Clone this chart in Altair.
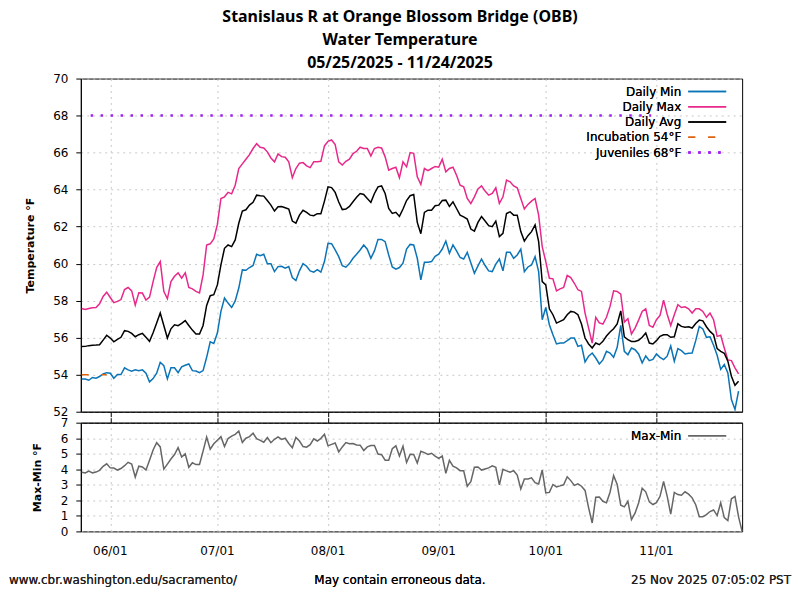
import altair as alt
import pandas as pd

# ---------------- data ----------------
first_day = "2025-05-24"
daily_min = [
    53.77, 53.77, 53.70, 53.85, 53.81, 53.90, 54.04, 54.11, 54.08, 53.81,
    54.01, 54.01, 54.37, 54.26, 54.19, 54.26, 54.22, 54.26, 54.08, 53.61,
    53.79, 54.08, 54.67, 54.49, 53.77, 54.37, 54.37, 54.11, 54.42, 54.51,
    54.58, 54.22, 54.20, 54.11, 54.22, 54.94, 55.78, 55.69, 56.25, 57.42,
    58.14, 57.87, 57.63, 57.99, 58.68, 59.66, 59.64, 59.79, 59.90, 60.51,
    60.43, 60.51, 60.00, 60.00, 59.57, 59.84, 59.86, 59.75, 59.84, 59.25,
    59.09, 59.61, 60.00, 59.86, 59.61, 59.54, 59.68, 59.54, 60.11, 61.10,
    61.08, 60.74, 60.38, 59.89, 59.81, 60.00, 60.29, 60.51, 60.74, 61.01,
    60.78, 60.29, 60.69, 61.31, 61.31, 61.19, 60.47, 59.82, 59.70, 59.79,
    60.02, 60.79, 61.04, 61.01, 60.29, 59.12, 60.07, 60.07, 60.11, 60.40,
    60.51, 60.79, 61.22, 60.56, 61.01, 60.69, 60.33, 60.25, 60.61, 60.05,
    59.48, 59.88, 60.25, 59.90, 59.61, 59.57, 59.97, 60.25, 59.61, 60.61,
    60.61, 60.29, 60.47, 60.79, 59.57, 59.82, 59.93, 60.38, 59.57, 56.97,
    57.63, 56.70, 56.16, 55.66, 55.71, 55.71, 55.84, 55.98, 55.98, 55.53,
    55.59, 54.69, 55.00, 55.17, 54.90, 54.58, 54.80, 55.26, 55.17, 54.94,
    55.48, 56.66, 55.26, 55.08, 55.44, 55.35, 55.12, 54.64, 55.01, 54.76,
    54.83, 55.12, 54.94, 54.82, 55.00, 55.55, 54.73, 55.41, 55.30, 55.12,
    55.16, 55.17, 55.84, 56.61, 56.47, 56.02, 56.05, 55.59, 55.05, 54.29,
    54.55, 54.10, 52.66, 52.12, 53.11,
]
daily_max = [
    57.58, 57.53, 57.58, 57.62, 57.63, 57.83, 58.23, 58.46, 58.17, 57.89,
    57.96, 58.06, 58.60, 58.71, 58.53, 57.76, 58.42, 58.41, 58.03, 58.19,
    59.03, 59.79, 60.11, 58.50, 58.10, 59.03, 59.32, 59.50, 59.21, 59.50,
    58.71, 58.64, 58.50, 58.42, 59.39, 61.01, 61.07, 61.33, 62.12, 63.52,
    63.61, 63.85, 63.77, 64.24, 65.14, 65.39, 65.64, 65.89, 66.22, 66.48,
    66.29, 66.25, 66.04, 65.71, 65.50, 65.93, 65.78, 65.75, 65.50, 64.64,
    65.14, 65.43, 65.46, 65.28, 65.19, 65.50, 65.50, 65.53, 66.36, 66.61,
    66.68, 66.43, 65.50, 65.33, 65.53, 65.64, 65.95, 66.07, 66.29, 66.22,
    66.22, 65.82, 66.22, 66.29, 66.25, 65.77, 65.05, 65.14, 65.21, 64.64,
    65.50, 65.23, 66.00, 65.96, 64.69, 64.28, 65.14, 65.03, 65.14, 65.25,
    65.21, 65.64, 64.96, 65.14, 65.21, 64.78, 64.24, 64.15, 63.52, 63.25,
    63.61, 64.03, 64.20, 63.92, 63.70, 63.79, 64.10, 63.25, 63.61, 64.51,
    64.42, 64.20, 64.10, 63.52, 62.95, 63.20, 63.38, 63.52, 62.62, 60.92,
    60.11, 59.21, 59.18, 58.53, 58.64, 58.71, 59.36, 59.25, 58.94, 58.59,
    58.50, 57.33, 56.52, 55.71, 57.10, 56.80, 56.74, 57.10, 57.69, 58.53,
    58.50, 58.35, 56.84, 57.02, 56.20, 56.52, 56.95, 57.42, 57.56, 56.66,
    56.56, 56.97, 57.20, 58.03, 57.27, 56.66, 57.24, 57.78, 57.63, 57.67,
    57.56, 57.33, 57.56, 57.56, 57.42, 57.10, 57.33, 56.97, 56.07, 56.13,
    55.44, 54.80, 54.76, 54.37, 54.04,
]
daily_avg = [
    55.52, 55.53, 55.57, 55.59, 55.60, 55.62, 55.87, 56.13, 55.98, 55.78,
    55.91, 56.02, 56.38, 56.34, 56.23, 56.05, 56.16, 56.23, 56.02, 55.80,
    56.27, 56.79, 57.33, 56.66, 55.98, 56.48, 56.70, 56.65, 56.77, 56.92,
    56.66, 56.41, 56.20, 56.20, 56.66, 57.74, 58.27, 58.32, 58.85, 59.93,
    60.83, 61.01, 60.92, 61.28, 62.18, 62.84, 62.91, 63.16, 63.31, 63.70,
    63.67, 63.65, 63.41, 63.16, 62.84, 63.07, 63.09, 63.02, 62.95, 62.30,
    62.19, 62.62, 62.88, 62.77, 62.62, 62.59, 62.70, 62.70, 63.38, 64.15,
    64.11, 63.85, 63.33, 62.92, 62.95, 63.09, 63.34, 63.59, 63.79, 63.74,
    63.52, 63.31, 63.79, 64.15, 64.20, 63.79, 62.98, 62.71, 62.77, 62.55,
    62.95, 63.41, 63.67, 63.74, 62.23, 61.62, 62.77, 62.89, 62.89, 63.13,
    63.16, 63.41, 63.43, 63.09, 63.34, 62.98, 62.62, 62.53, 62.41, 61.87,
    61.76, 62.23, 62.54, 62.30, 62.05, 62.00, 62.30, 61.46, 61.64, 62.71,
    62.80, 62.62, 62.62, 61.73, 61.22, 61.51, 61.73, 62.09, 61.19, 59.03,
    58.85, 57.56, 57.24, 56.79, 56.88, 56.97, 57.24, 57.42, 57.38, 57.24,
    56.74, 55.98, 55.66, 55.44, 55.71, 55.62, 55.80, 56.09, 56.31, 56.48,
    56.74, 57.45, 56.05, 55.89, 55.80, 55.80, 55.86, 56.02, 56.25, 55.71,
    55.66, 55.84, 56.07, 56.16, 56.16, 56.02, 56.05, 56.75, 56.61, 56.56,
    56.59, 56.52, 56.77, 56.95, 56.91, 56.59, 56.34, 56.16, 55.41, 55.26,
    55.16, 54.73, 53.92, 53.43, 53.65,
]
# last (partial) day only appears in the Max-Min panel
last_partial_range = [0.0]

incubation_dates = ["2025-05-24T00:00:00", "2025-05-31T00:00:00"]
incubation_value = 54
juvenile_dates = ["2025-05-26T12:00:00", "2025-10-30T12:00:00"]
juvenile_value = 68

month_tick_dates = ["2025-06-01", "2025-07-01", "2025-08-01", "2025-09-01", "2025-10-01", "2025-11-01"]
month_tick_labels = ["06/01", "07/01", "08/01", "09/01", "10/01", "11/01"]

series_names = ["Daily Min", "Daily Max", "Daily Avg"]
series_colors = ["#0a74b6", "#e8288a", "#000000"]
legend_labels = ["Daily Min", "Daily Max", "Daily Avg", "Incubation 54\u00b0F", "Juveniles 68\u00b0F"]
legend_colors = ["#0a74b6", "#e8288a", "#000000", "#e0620d", "#a020f0"]
legend_dash = [[1, 0], [1, 0], [1, 0], [7, 13], [2.5, 7.5]]
range_color = "#666666"

title_lines = ["Stanislaus R at Orange Blossom Bridge (OBB)", "Water Temperature", "05/25/2025 - 11/24/2025"]
footer_left = "www.cbr.washington.edu/sacramento/"
footer_mid = "May contain erroneous data."
footer_right = "25 Nov 2025 07:05:02 PST"

# ---------------- frames ----------------
fmt = "%Y-%m-%dT%H:%M:%S"
dates = pd.date_range(first_day, periods=len(daily_min), freq="D")
date_str = [d.strftime(fmt) for d in dates]

long_rows = []
for name, vals in zip(series_names, [daily_min, daily_max, daily_avg]):
    for d, v in zip(date_str, vals):
        long_rows.append({"date": d, "series": name, "value": v})
df_long = pd.DataFrame(long_rows)

range_vals = [round(mx - mn, 2) for mx, mn in zip(daily_max, daily_min)] + last_partial_range
range_dates = pd.date_range(first_day, periods=len(range_vals), freq="D")
df_range = pd.DataFrame({"date": [d.strftime(fmt) for d in range_dates], "value": range_vals})

df_inc = pd.DataFrame({"date": [pd.Timestamp(d).strftime(fmt) for d in incubation_dates],
                       "value": [incubation_value] * len(incubation_dates)})
df_juv = pd.DataFrame({"date": [pd.Timestamp(d).strftime(fmt) for d in juvenile_dates],
                       "value": [juvenile_value] * len(juvenile_dates)})
df_months = pd.DataFrame({"date": [pd.Timestamp(d).strftime(fmt) for d in month_tick_dates],
                          "label": month_tick_labels})

# ---------------- scales / axes ----------------
W = 663
H_TOP = 334
H_BOT = 109
x_domain = [alt.DateTime(year=2025, month=5, date=23, hours=18),
            alt.DateTime(year=2025, month=11, date=25)]
month_ticks = [alt.DateTime(year=2025, month=m, date=1) for m in range(6, 12)]
x_scale = alt.Scale(domain=x_domain, nice=False)
y_top_scale = alt.Scale(domain=[52, 70], nice=False, zero=False)
y_bot_scale = alt.Scale(domain=[0, 7], nice=False)

FONT = "DejaVu Sans"
grid_kw = dict(grid=True, gridColor="#c8c8c8", gridDash=[2, 4], gridWidth=1)

x_top_axis = alt.Axis(values=month_ticks, labels=False, title=None, tickSize=5,
                      domainColor="black", tickColor="black", **grid_kw)
x_bot_axis = alt.Axis(values=month_ticks, labels=False, title=None, tickSize=5,
                      domainColor="black", tickColor="black", **grid_kw)
x_bot_top_axis = alt.Axis(values=month_ticks, orient="top", labels=False, title=None,
                          tickSize=5, grid=False, domainColor="black", tickColor="black")

y_top_axis = alt.Axis(values=list(range(52, 71, 2)), title="Temperature \u00b0F",
                      titleFont=FONT, titleFontSize=11, titleFontWeight="bold",
                      titleX=-50, titleY=H_TOP / 2, titleAlign="center", titleBaseline="middle",
                      titleAngle=270, titleColor="black", labelOverlap=False,
                      labelFont=FONT, labelFontSize=12, labelColor="black", labelPadding=8,
                      tickSize=5, domainColor="black", tickColor="black", **grid_kw)
y_bot_axis = alt.Axis(values=list(range(0, 8)), title="Max-Min \u00b0F",
                      titleFont=FONT, titleFontSize=11, titleFontWeight="bold",
                      titleX=-43, titleY=H_BOT / 2, titleAlign="center", titleBaseline="middle",
                      titleAngle=270, titleColor="black", labelOverlap=False,
                      labelFont=FONT, labelFontSize=12, labelColor="black", labelPadding=8,
                      tickSize=5, domainColor="black", tickColor="black", **grid_kw)

X_TOP = alt.X("date:T", scale=x_scale, axis=x_top_axis)
Y_TOP = alt.Y("value:Q", scale=y_top_scale, axis=y_top_axis)

# ---------------- top panel ----------------
lines = alt.Chart(df_long).mark_line(strokeWidth=1.5, clip=True).encode(
    x=X_TOP, y=Y_TOP,
    color=alt.Color("series:N", scale=alt.Scale(domain=series_names, range=series_colors), legend=None),
    detail="series:N",
)
inc_line = alt.Chart(df_inc).mark_line(color=legend_colors[3], strokeWidth=1.5,
                                       strokeDash=legend_dash[3]).encode(x=X_TOP, y=Y_TOP)
juv_line = alt.Chart(df_juv).mark_line(color=legend_colors[4], strokeWidth=2.5,
                                       strokeDash=legend_dash[4]).encode(x=X_TOP, y=Y_TOP)

legend_layers = []
for k, (lab, col, dash) in enumerate(zip(legend_labels, legend_colors, legend_dash)):
    ypos = 13 + k * 15.3
    legend_layers.append(
        alt.Chart(df_inc).mark_text(text=lab, align="right", baseline="middle", font=FONT,
                                    fontSize=12, color="black").encode(
            x=alt.value(602), y=alt.value(ypos)))
    legend_layers.append(
        alt.Chart(df_inc).mark_rule(color=col, strokeDash=dash,
                                    strokeWidth=2.5 if k == 4 else 1.5).encode(
            x=alt.value(609), x2=alt.value(647), y=alt.value(ypos)))

top = alt.layer(lines, inc_line, juv_line, *legend_layers).properties(width=W, height=H_TOP)

# ---------------- bottom panel ----------------
X_BOT = alt.X("date:T", scale=x_scale, axis=x_bot_axis)
Y_BOT = alt.Y("value:Q", scale=y_bot_scale, axis=y_bot_axis)
range_line = alt.Chart(df_range).mark_line(color=range_color, strokeWidth=1.5).encode(
    x=X_BOT, y=Y_BOT)
top_ticks = alt.Chart(df_range).mark_line(opacity=0).encode(
    x=alt.X("date:T", scale=x_scale, axis=x_bot_top_axis), y=Y_BOT)
month_labels = alt.Chart(df_months).mark_text(align="center", baseline="middle", font=FONT,
                                              fontSize=12, color="black").encode(
    x=X_BOT, y=alt.value(H_BOT + 20), text="label:N")
range_leg_text = alt.Chart(df_inc).mark_text(text="Max-Min", align="right", baseline="middle",
                                             font=FONT, fontSize=12, color="black").encode(
    x=alt.value(602), y=alt.value(13))
range_leg_rule = alt.Chart(df_inc).mark_rule(color=range_color, strokeWidth=1.5).encode(
    x=alt.value(609), x2=alt.value(647), y=alt.value(13))
foot_l = alt.Chart(df_inc).mark_text(text=footer_left, align="left", baseline="middle",
                                     font=FONT, fontSize=12, color="#222222").encode(
    x=alt.value(-72), y=alt.value(158))
foot_m = alt.Chart(df_inc).mark_text(text=footer_mid, align="center", baseline="middle",
                                     font=FONT, fontSize=12, color="black").encode(
    x=alt.value(320), y=alt.value(158))
foot_r = alt.Chart(df_inc).mark_text(text=footer_right, align="right", baseline="middle",
                                     font=FONT, fontSize=12, color="#222222").encode(
    x=alt.value(712), y=alt.value(158))

bottom = alt.layer(range_line, top_ticks, month_labels, range_leg_text, range_leg_rule,
                   foot_l, foot_m, foot_r).properties(width=W, height=H_BOT)

chart = alt.vconcat(top, bottom, spacing=11, bounds="flush").properties(
    title=alt.TitleParams(title_lines, font="Noto Sans", fontSize=16, fontWeight="bold",
                          lineHeight=23, anchor="middle", color="black", offset=1),
    padding={"left": 0, "top": 0, "right": 0, "bottom": 0},
).configure_view(stroke="black", strokeWidth=1)

chart.save("out.html", embed_options={"renderer": "svg", "actions": False})
